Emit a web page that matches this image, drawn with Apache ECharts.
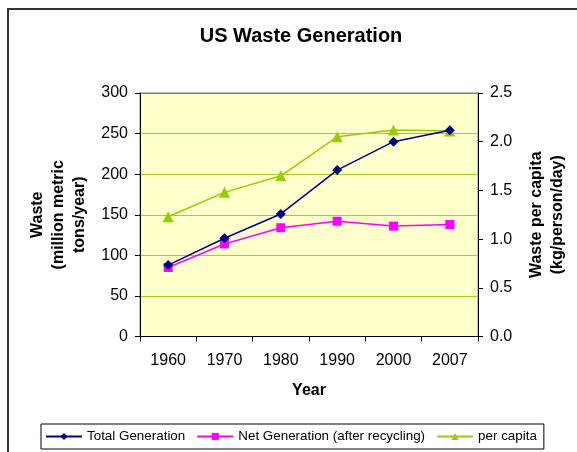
<!DOCTYPE html>
<html>
<head>
<meta charset="utf-8">
<title>US Waste Generation</title>
<script src="https://cdn.jsdelivr.net/npm/echarts@6/dist/echarts.min.js"></script>
<style>
	html, body {
		margin: 0;
		padding: 0;
		background-color: #fff;
	}

	#container {
		width: 577px;
		height: 452px;
	}
</style>
</head>
<body>
<div id="container"></div>
<script>
	// values
	var years = ['1960', '1970', '1980', '1990', '2000', '2007'];
	var totalGeneration = [88, 121, 151, 205, 240, 254];
	var netGeneration = [85, 114, 134, 142, 136, 138];
	var perCapita = [1.23, 1.48, 1.65, 2.05, 2.12, 2.11];
	var leftTicks = [0, 300, 50];
	var rightTicks = [0, 2.5, 0.5];

	var font = 'Liberation Sans, Arial, sans-serif';
	var gridGreen = '#a5d11c';

	var myChart = echarts.init(document.getElementById('container'));

	var option = {
		backgroundColor: '#fff',
		animation: false,
		textStyle: {
			fontFamily: font,
			color: '#000'
		},
		graphic: [{
			// outer chart frame, runs off the right and bottom edge
			type: 'rect',
			shape: { x: 8, y: 9, width: 640, height: 520 },
			style: { fill: 'none', stroke: '#333', lineWidth: 2 },
			silent: true
		}],
		title: {
			text: 'US Waste Generation',
			left: 296,
			textAlign: 'center',
			top: 21,
			textStyle: {
				fontFamily: font,
				fontSize: 20,
				fontWeight: 'bold',
				color: '#000'
			}
		},
		legend: {
			left: 41,
			top: 424,
			padding: [6, 7, 6, 4],
			itemWidth: 36,
			itemHeight: 9,
			itemGap: 11,
			borderColor: '#000',
			borderWidth: 1,
			textStyle: {
				fontFamily: font,
				fontSize: 13.4,
				color: '#000'
			},
			data: ['Total Generation', 'Net Generation (after recycling)', 'per capita']
		},
		grid: {
			left: 140,
			right: 99,
			top: 93,
			bottom: 115.5,
			show: true,
			backgroundColor: '#ffffcc',
			borderColor: '#808080',
			borderWidth: 1
		},
		xAxis: {
			type: 'category',
			data: years,
			boundaryGap: true,
			name: 'Year',
			nameLocation: 'middle',
			nameGap: 46,
			nameTextStyle: {
				fontFamily: font,
				fontSize: 16,
				fontWeight: 'bold',
				color: '#000'
			},
			axisLine: { lineStyle: { color: '#000', width: 1 } },
			axisTick: { show: true, length: 5, lineStyle: { color: '#000' } },
			axisLabel: {
				margin: 16,
				fontFamily: font,
				fontSize: 16,
				color: '#000'
			}
		},
		yAxis: [{
			type: 'value',
			min: leftTicks[0],
			max: leftTicks[1],
			interval: leftTicks[2],
			position: 'left',
			name: 'Waste\n(million metric\ntons/year)',
			nameLocation: 'middle',
			nameRotate: 90,
			nameGap: 49,
			nameTextStyle: {
				fontFamily: font,
				fontSize: 16,
				fontWeight: 'bold',
				lineHeight: 21,
				color: '#000'
			},
			axisLine: { show: true, lineStyle: { color: '#000', width: 1 } },
			axisTick: { show: true, length: 5, lineStyle: { color: '#000' } },
			axisLabel: {
				margin: 12,
				fontFamily: font,
				fontSize: 16,
				color: '#000'
			},
			splitLine: {
				show: true,
				lineStyle: {
					color: ['#808080', gridGreen, gridGreen, gridGreen, gridGreen, gridGreen, '#808080'],
					width: 1
				}
			}
		}, {
			type: 'value',
			min: rightTicks[0],
			max: rightTicks[1],
			interval: rightTicks[2],
			position: 'right',
			name: 'Waste per capita\n(kg/person/day)',
			nameLocation: 'middle',
			nameRotate: 90,
			nameGap: 48,
			nameTextStyle: {
				fontFamily: font,
				fontSize: 16,
				fontWeight: 'bold',
				lineHeight: 21,
				color: '#000'
			},
			axisLine: { show: true, lineStyle: { color: '#000', width: 1 } },
			axisTick: { show: true, length: 5, lineStyle: { color: '#000' } },
			axisLabel: {
				margin: 12,
				fontFamily: font,
				fontSize: 16,
				color: '#000',
				formatter: function (v) { return v.toFixed(1); }
			},
			splitLine: { show: false }
		}],
		series: [{
			name: 'Total Generation',
			type: 'line',
			data: totalGeneration,
			yAxisIndex: 0,
			symbol: 'diamond',
			symbolSize: 10,
			color: '#000080',
			lineStyle: { color: '#000080', width: 1.5 },
			itemStyle: { color: '#000080' },
			z: 4
		}, {
			name: 'Net Generation (after recycling)',
			type: 'line',
			data: netGeneration,
			yAxisIndex: 0,
			symbol: 'rect',
			symbolSize: 9,
			color: '#ff00ff',
			lineStyle: { color: '#ff00ff', width: 1.5 },
			itemStyle: { color: '#ff00ff' },
			z: 3
		}, {
			name: 'per capita',
			type: 'line',
			data: perCapita,
			yAxisIndex: 1,
			symbol: 'triangle',
			symbolSize: 11,
			color: '#99cc00',
			lineStyle: { color: '#99cc00', width: 1.5 },
			itemStyle: { color: '#99cc00' },
			z: 3
		}]
	};

	myChart.setOption(option);
</script>
</body>
</html>
